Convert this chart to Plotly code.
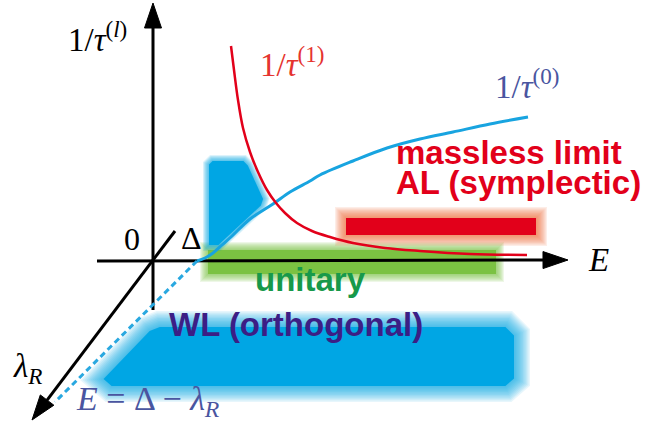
import plotly.graph_objects as go
import numpy as np

# ---------------- data (units: E to the right, 1/tau upward; origin at axis crossing) -------------
E_tau1 = [0.79, 0.82, 0.86, 0.91, 0.98, 1.06, 1.15, 1.24, 1.33, 1.45, 1.60, 1.78, 2.01, 2.33, 2.68, 3.18, 3.75]
inv_tau1 = [2.15, 1.91, 1.61, 1.33, 1.09, 0.89, 0.71, 0.58, 0.48, 0.38, 0.30, 0.24, 0.18, 0.13, 0.10, 0.07, 0.06]

E_tau0 = [0.45, 0.53, 0.61, 0.70, 0.80, 0.98, 1.21, 1.38, 1.58, 1.68, 2.01, 2.35, 2.68, 3.01, 3.38, 3.76]
inv_tau0 = [0.00, 0.03, 0.08, 0.16, 0.25, 0.42, 0.57, 0.69, 0.80, 0.86, 1.00, 1.13, 1.22, 1.29, 1.37, 1.44]

# E = Delta - lambda_R projection line
E_gap_line = [0.45, -0.97]
R_gap_line = [0.00, -1.41]

# regions (polygons)
upper_blue_E = [0.58, 0.61, 0.91, 0.95, 1.10, 1.08, 0.66, 0.58]
upper_blue_R = [0.96, 0.99, 0.99, 0.95, 0.62, 0.56, 0.17, 0.17]
unitary_E = [0.57, 3.43, 3.43, 0.57]
unitary_R = [0.10, 0.10, -0.12, -0.12]
symplectic_E = [1.95, 3.83, 3.83, 1.95]
symplectic_R = [0.42, 0.42, 0.27, 0.27]
orthogonal_E = [-0.02, 0.08, 3.53, 3.61, 3.61, 3.53, -0.40, -0.47]
orthogonal_R = [-0.71, -0.67, -0.67, -0.75, -1.17, -1.24, -1.24, -1.18]

# axes: (start, tip)
E_axis = [(-0.55, 0.00), (4.16, 0.01)]
rate_axis = [(0.01, -0.49), (0.01, 2.58)]
lambda_axis = [(0.23, 0.30), (-1.20, -1.59)]

fig = go.Figure()

def path_of(xs, ys):
    s = "M %g,%g " % (xs[0], ys[0])
    for x, y in zip(xs[1:], ys[1:]):
        s += "L %g,%g " % (x, y)
    return s + "Z"

def blob(xs, ys, core, glow, maxw, n, op):
    p = path_of(xs, ys)
    for i in range(n):
        w = maxw * (n - i) / n
        fig.add_shape(type="path", path=p, xref="x", yref="y", layer="below",
                      fillcolor=glow, opacity=op, line=dict(color=glow, width=w))
    fig.add_shape(type="path", path=p, xref="x", yref="y", layer="below",
                  fillcolor=core, opacity=1, line=dict(color=core, width=2))

blob(orthogonal_E, orthogonal_R, "#00a6e4", "#00a6e4", 34, 12, 0.09)
blob(unitary_E, unitary_R, "#7bc242", "#7bc242", 18, 9, 0.12)
blob(upper_blue_E, upper_blue_R, "#00a6e4", "#00a6e4", 14, 8, 0.13)
blob(symplectic_E, symplectic_R, "#e2001a", "#f07040", 24, 10, 0.12)

# axes
def arrow(start, tip, L=0.25, W=0.085):
    s = np.array(start, float); t = np.array(tip, float)
    d = (t - s) / np.linalg.norm(t - s)
    n = np.array([-d[1], d[0]])
    b = t - L * d
    fig.add_trace(go.Scatter(x=[s[0], b[0]], y=[s[1], b[1]], mode="lines",
                             line=dict(color="black", width=3), hoverinfo="skip"))
    c1 = b + W * n; c2 = b - W * n
    fig.add_trace(go.Scatter(x=[t[0], c1[0], c2[0], t[0]], y=[t[1], c1[1], c2[1], t[1]],
                             mode="lines", fill="toself", fillcolor="black",
                             line=dict(color="black", width=1), hoverinfo="skip"))

arrow(*E_axis)
arrow(*rate_axis)
arrow(*lambda_axis)

fig.add_trace(go.Scatter(x=E_gap_line, y=R_gap_line, mode="lines",
                         line=dict(color="#29a8e0", width=3, dash="6px,4px")))
fig.add_trace(go.Scatter(x=E_tau0, y=inv_tau0, mode="lines", line_shape="spline",
                         line=dict(color="#18a4e0", width=3)))
fig.add_trace(go.Scatter(x=E_tau1, y=inv_tau1, mode="lines", line_shape="spline",
                         line=dict(color="#e2001a", width=2.5)))

serif = "Liberation Serif"
sans = "Liberation Sans"
ann = [
    ("1/<i>τ</i><sup>(<i>l</i>)</sup>", -0.55, 2.24, serif, 33, "black", "center"),
    ("1/<i>τ</i><sup>(1)</sup>", 1.40, 1.99, serif, 33, "#e5342f", "center"),
    ("1/<i>τ</i><sup>(0)</sup>", 3.75, 1.77, serif, 33, "#4a55a0", "center"),
    ("<b>massless limit</b>", 3.57, 1.09, sans, 33, "#e2001a", "center"),
    ("<b>AL (symplectic)</b>", 3.66, 0.79, sans, 33, "#e2001a", "center"),
    ("0", -0.20, 0.22, serif, 32, "black", "center"),
    ("Δ", 0.39, 0.23, serif, 32, "black", "center"),
    ("<i>E</i>", 4.46, 0.01, serif, 33, "black", "center"),
    ("<b>unitary</b>", 1.58, -0.18, sans, 33, "#17994a", "center"),
    ("<b>WL (orthogonal)</b>", 1.44, -0.63, sans, 33, "#3c1e85", "center"),
    ("<i>λ</i><sub><i>R</i></sub>", -1.25, -1.07, serif, 33, "black", "center"),
    ("<i>E</i> = Δ − <i>λ</i><sub><i>R</i></sub>", -0.78, -1.40, serif, 34, "#4a55a0", "left"),
]
for text, x, y, fam, size, col, xa in ann:
    fig.add_annotation(x=x, y=y, text=text, showarrow=False, xref="x", yref="y",
                       xanchor=xa, yanchor="middle",
                       font=dict(family=fam, size=size, color=col))

fig.update_layout(width=646, height=424, margin=dict(l=0, r=0, t=0, b=0),
                  paper_bgcolor="white", plot_bgcolor="white", showlegend=False,
                  xaxis=dict(range=[-1.52, 4.94], visible=False, fixedrange=True),
                  yaxis=dict(range=[-1.63, 2.61], visible=False, fixedrange=True))
fig.write_html("out.html", config={"displayModeBar": False},
               post_script="document.body.style.margin='0';")
